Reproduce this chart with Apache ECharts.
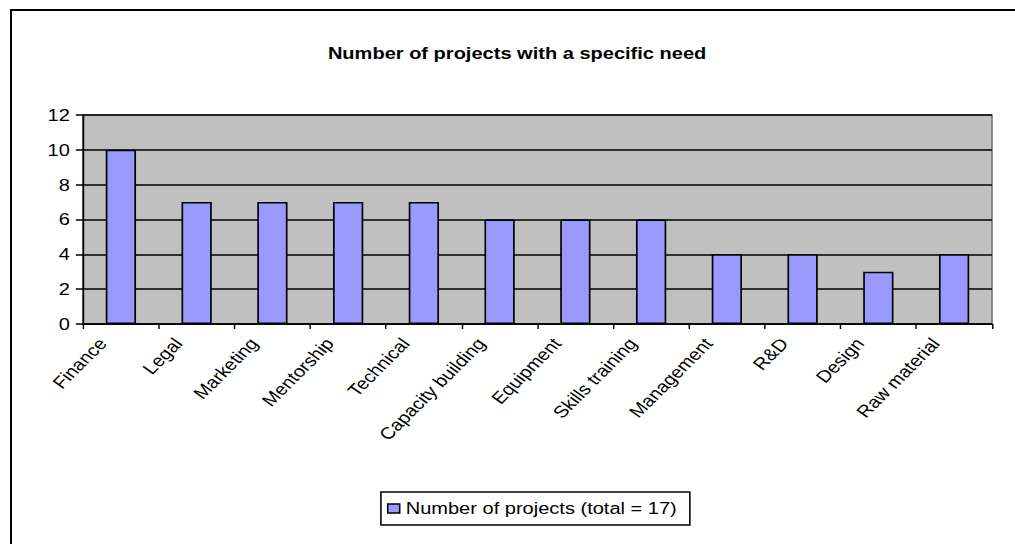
<!DOCTYPE html>
<html>
<head>
<meta charset="utf-8">
<script src="https://cdn.jsdelivr.net/npm/echarts@6/dist/echarts.min.js"></script>
<style>
  html, body { margin: 0; padding: 0; background: #fff; }
  #page { position: relative; width: 1015px; height: 544px; overflow: hidden; background: #fff; }
  /* the chart is laid out narrower and stretched horizontally to fill the page */
  #chart { position: absolute; left: 0; top: 0; width: 846px; height: 544px;
           transform: scaleX(1.19976); transform-origin: 0 0; }
  #frame { position: absolute; left: 10px; top: 9px; width: 1100px; height: 700px;
           border: 2px solid #000; pointer-events: none; }
</style>
</head>
<body>
<div id="page">
  <div id="chart"></div>
  <div id="frame"></div>
</div>
<script>
// Project needs and how many projects reported each one
const categories = ['Finance', 'Legal', 'Marketing', 'Mentorship', 'Technical', 'Capacity building',
  'Equipment', 'Skills training', 'Management', 'R&D', 'Design', 'Raw material'];
const projectCounts = [10, 7, 7, 7, 7, 6, 6, 6, 4, 4, 3, 4];
const seriesName = 'Number of projects (total = 17)';
const chartTitle = 'Number of projects with a specific need';
const yTicks = { min: 0, max: 12, interval: 2 };

const FONT = '"Liberation Sans", Arial, sans-serif';
const FS = 16.7;

const chart = echarts.init(document.getElementById('chart'), null, { renderer: 'svg' });

chart.setOption({
  animation: false,
  backgroundColor: '#ffffff',
  title: {
    text: chartTitle,
    left: 426,
    textAlign: 'center',
    top: 40,
    textStyle: { fontFamily: FONT, fontSize: FS, fontWeight: 'bold', color: '#000' }
  },
  legend: {
    left: 317.5,
    top: 492,
    padding: [8, 11, 8, 5],
    borderColor: '#000',
    borderWidth: 1.3,
    itemWidth: 10,
    itemHeight: 9,
    itemGap: 4,
    icon: 'rect',
    textStyle: { fontFamily: FONT, fontSize: FS, color: '#000' },
    data: [{ name: seriesName, itemStyle: { color: '#9999ff', borderColor: '#000', borderWidth: 1.3 } }]
  },
  grid: {
    left: 69.2,
    top: 115,
    right: 19.2,
    bottom: 220,
    show: true,
    backgroundColor: '#c0c0c0',
    borderColor: '#808080',
    borderWidth: 1.5
  },
  xAxis: {
    type: 'category',
    data: categories,
    boundaryGap: true,
    axisLine: { lineStyle: { color: '#000', width: 1.5 } },
    axisTick: { show: true, length: 5, lineStyle: { color: '#000', width: 1.2 } },
    axisLabel: {
      rotate: 50,
      interval: 0,
      margin: -2,
      padding: [0, 24, 0, 0],
      fontFamily: FONT,
      fontSize: FS,
      color: '#000'
    },
    splitLine: { show: false }
  },
  yAxis: {
    type: 'value',
    min: yTicks.min,
    max: yTicks.max,
    interval: yTicks.interval,
    axisLine: { show: true, lineStyle: { color: '#000', width: 1.4 } },
    axisTick: { show: true, length: 6, lineStyle: { color: '#000', width: 1.5 } },
    axisLabel: { fontFamily: FONT, fontSize: FS, color: '#000', margin: 11 },
    splitLine: { show: true, lineStyle: { color: '#000', width: 1.5 } }
  },
  series: [{
    name: seriesName,
    type: 'bar',
    data: projectCounts,
    barWidth: '40%',
    itemStyle: { color: '#9999ff', borderColor: '#000', borderWidth: 1.4 }
  }]
});
</script>
</body>
</html>
